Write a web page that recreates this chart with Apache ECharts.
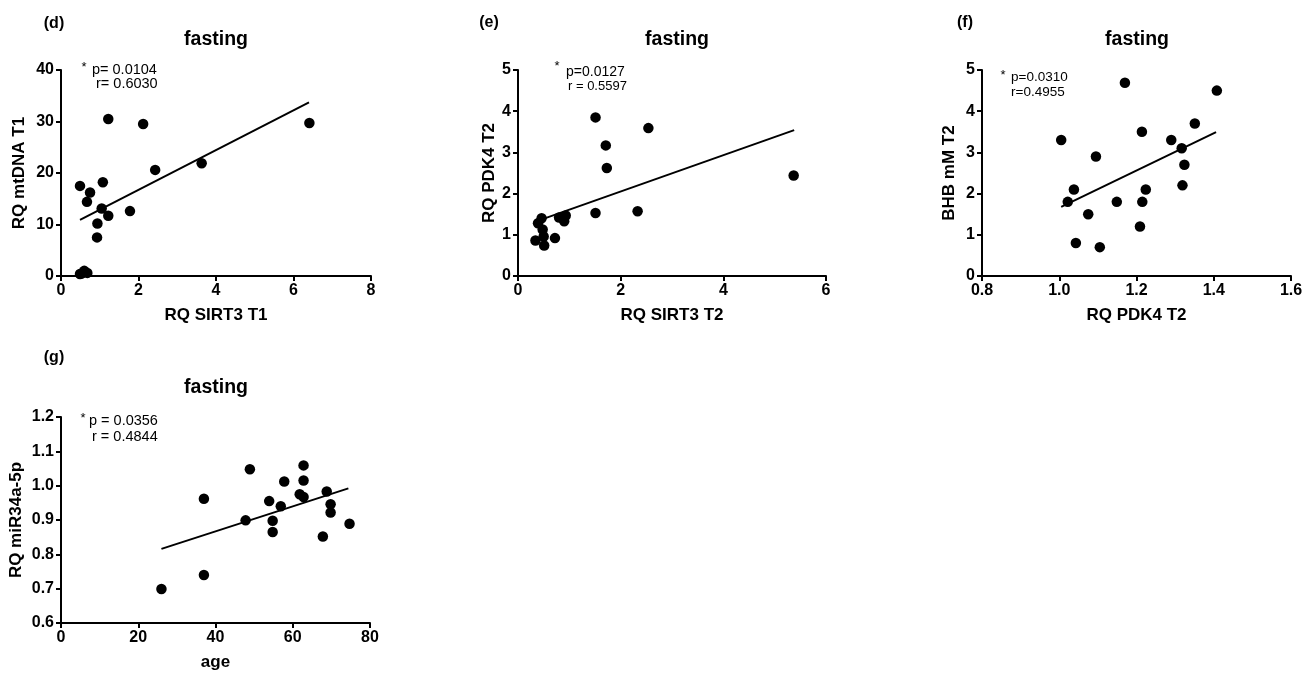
<!DOCTYPE html>
<html>
<head>
<meta charset="utf-8">
<title>fasting correlations</title>
<script src="https://cdn.jsdelivr.net/npm/echarts@6/dist/echarts.min.js"></script>
<style>
  html, body { margin: 0; padding: 0; background: #fff; }
  #chart { width: 1309px; height: 673px; }
</style>
</head>
<body>
<div id="chart"></div>
<script>
// (d) RQ SIRT3 T1 vs RQ mtDNA T1
var sirt3T1 = [0.49, 0.75, 0.67, 1.08, 1.05, 1.22, 0.94, 0.93, 1.22, 2.12, 2.43, 1.78, 3.63, 6.41, 0.49, 0.53, 0.60, 0.68];
var mtdnaT1 = [17.5, 16.2, 14.4, 18.2, 13.1, 11.7, 10.2, 7.5, 30.5, 29.5, 20.6, 12.6, 21.9, 29.7, 0.4, 0.5, 1.0, 0.6];
var fitD = [[0.49, 10.9], [6.40, 33.7]];

// (e) RQ SIRT3 T2 vs RQ PDK4 T2
var sirt3T2 = [1.51, 2.54, 1.71, 1.73, 5.37, 1.51, 2.33, 0.93, 0.80, 0.90, 0.46, 0.39, 0.48, 0.50, 0.34, 0.72, 0.51];
var pdk4T2 = [3.85, 3.59, 3.17, 2.62, 2.44, 1.53, 1.57, 1.47, 1.42, 1.33, 1.40, 1.28, 1.13, 0.96, 0.86, 0.92, 0.74];
var fitE = [[0.52, 1.40], [5.38, 3.54]];

// (f) RQ PDK4 T2 vs BHB mM T2
var pdk4T2f = [1.005, 1.022, 1.038, 1.043, 1.075, 1.095, 1.105, 1.149, 1.170, 1.214, 1.215, 1.209, 1.224, 1.290, 1.317, 1.319, 1.324, 1.351, 1.408];
var bhbT2 = [3.30, 1.80, 2.10, 0.80, 1.50, 2.90, 0.70, 1.80, 4.69, 3.50, 1.80, 1.20, 2.10, 3.30, 3.10, 2.20, 2.70, 3.70, 4.50];
var fitF = [[1.005, 1.68], [1.406, 3.49]];

// (g) age vs RQ miR34a-5p
var age = [26.0, 37.0, 37.0, 47.8, 48.9, 53.9, 54.8, 54.8, 56.9, 57.8, 61.8, 62.8, 62.8, 62.8, 67.8, 68.8, 69.8, 69.8, 74.7];
var mir34a = [0.699, 0.962, 0.740, 0.899, 1.048, 0.955, 0.898, 0.865, 0.940, 1.012, 0.975, 0.967, 1.059, 1.015, 0.852, 0.983, 0.946, 0.922, 0.889];
var fitG = [[26.0, 0.816], [74.4, 0.992]];

var FONT = 'Arial, "Liberation Sans", sans-serif';

function pairs(xs, ys) {
  return xs.map(function (x, i) { return [x, ys[i]]; });
}

function makeAxis(idx, name, min, max, interval, gap, isY, digits) {
  return {
    gridIndex: idx,
    type: 'value',
    min: min,
    max: max,
    interval: interval,
    name: name,
    nameLocation: 'middle',
    nameGap: gap,
    nameRotate: isY ? 90 : 0,
    nameTextStyle: { color: '#000', fontFamily: FONT, fontWeight: 'bold', fontSize: 17 },
    axisLine: { show: true, onZero: false, lineStyle: { color: '#000', width: 2 } },
    axisTick: { show: true, inside: false, length: 5, lineStyle: { color: '#000', width: 2 } },
    splitLine: { show: false },
    axisLabel: {
      color: '#000', fontFamily: FONT, fontWeight: 'bold', fontSize: 16,
      margin: 7,
      formatter: function (v) { return digits ? v.toFixed(digits) : String(Math.round(v)); }
    }
  };
}

function lineSeries(idx, pts) {
  return {
    type: 'line', xAxisIndex: idx, yAxisIndex: idx, data: pts,
    showSymbol: false, symbol: 'none', silent: true,
    lineStyle: { color: '#000', width: 2 }, z: 2
  };
}

function dotSeries(idx, xs, ys) {
  return {
    type: 'scatter', xAxisIndex: idx, yAxisIndex: idx, data: pairs(xs, ys),
    symbolSize: 10.5, clip: false, itemStyle: { color: '#000', opacity: 1 }, z: 3
  };
}

function txt(x, y, s, size, bold, align) {
  return {
    type: 'text', x: x, y: y, silent: true,
    style: {
      text: s, fill: '#000', fontFamily: FONT, fontSize: size,
      fontWeight: bold ? 'bold' : 'normal',
      textAlign: align || 'center', textVerticalAlign: 'middle'
    }
  };
}

var chart = echarts.init(document.getElementById('chart'));

var option = {
  animation: false,
  backgroundColor: '#fff',
  grid: [
    { left: 61, top: 70, width: 310, height: 206, outerBoundsMode: 'none', containLabel: false },
    { left: 518, top: 70, width: 308, height: 206, outerBoundsMode: 'none', containLabel: false },
    { left: 982, top: 70, width: 309, height: 206, outerBoundsMode: 'none', containLabel: false },
    { left: 61, top: 417, width: 309, height: 206, outerBoundsMode: 'none', containLabel: false }
  ],
  xAxis: [
    makeAxis(0, 'RQ SIRT3 T1', 0, 8, 2, 31, false, 0),
    makeAxis(1, 'RQ SIRT3 T2', 0, 6, 2, 31, false, 0),
    makeAxis(2, 'RQ PDK4 T2', 0.8, 1.6, 0.2, 31, false, 1),
    makeAxis(3, 'age', 0, 80, 20, 31, false, 0)
  ],
  yAxis: [
    makeAxis(0, 'RQ mtDNA T1', 0, 40, 10, 33, true, 0),
    makeAxis(1, 'RQ PDK4 T2', 0, 5, 1, 16, true, 0),
    makeAxis(2, 'BHB mM T2', 0, 5, 1, 24, true, 0),
    makeAxis(3, 'RQ miR34a-5p', 0.6, 1.2, 0.1, 36, true, 1)
  ],
  series: [
    lineSeries(0, fitD), dotSeries(0, sirt3T1, mtdnaT1),
    lineSeries(1, fitE), dotSeries(1, sirt3T2, pdk4T2),
    lineSeries(2, fitF), dotSeries(2, pdk4T2f, bhbT2),
    lineSeries(3, fitG), dotSeries(3, age, mir34a)
  ],
  graphic: [
    // panel letters
    txt(54, 24, '(d)', 16, true),
    txt(489, 23, '(e)', 16, true),
    txt(965, 23, '(f)', 16, true),
    txt(54, 358, '(g)', 16, true),
    // titles
    txt(216, 40, 'fasting', 19.5, true),
    txt(677, 40, 'fasting', 19.5, true),
    txt(1137, 40, 'fasting', 19.5, true),
    txt(216, 388, 'fasting', 19.5, true),
    // statistics
    txt(84, 67, '*', 13, false),
    txt(92, 70, 'p= 0.0104', 14.5, false, 'left'),
    txt(96, 84, 'r= 0.6030', 14.5, false, 'left'),
    txt(557, 66, '*', 13, false),
    txt(566, 72, 'p=0.0127', 14, false, 'left'),
    txt(568, 86, 'r = 0.5597', 13, false, 'left'),
    txt(1003, 75, '*', 13, false),
    txt(1011, 77, 'p=0.0310', 13.5, false, 'left'),
    txt(1011, 92, 'r=0.4955', 13.5, false, 'left'),
    txt(83, 418, '*', 13, false),
    txt(89, 421, 'p = 0.0356', 14.5, false, 'left'),
    txt(92, 437, 'r = 0.4844', 14.5, false, 'left')
  ]
};

chart.setOption(option);
</script>
</body>
</html>
